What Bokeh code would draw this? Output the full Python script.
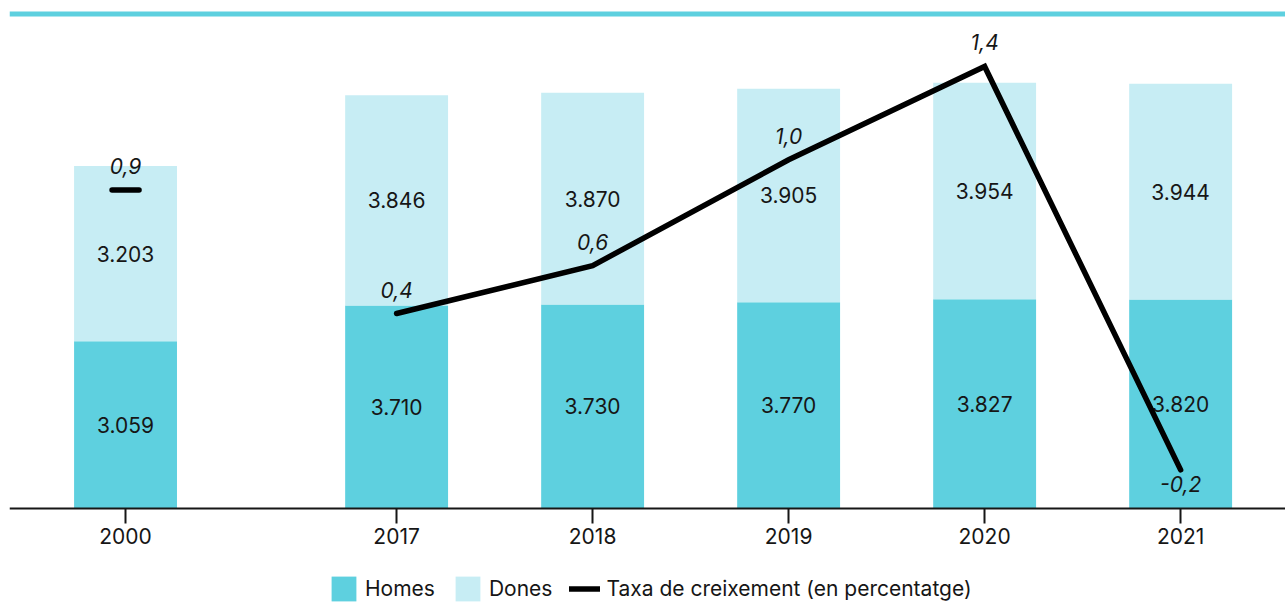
from bokeh.plotting import figure
from bokeh.models import (Range1d, FixedTicker, Span, Legend, LegendItem,
                          ColumnDataSource)
from bokeh.core.properties import value
from bokeh.embed import file_html
from bokeh.resources import INLINE

years = ["2000", "2017", "2018", "2019", "2020", "2021"]
homes = [3059, 3710, 3730, 3770, 3827, 3820]
dones = [3203, 3846, 3870, 3905, 3954, 3944]
taxa = [0.9, 0.41, 0.6, 1.02, 1.39, -0.21]

C_HOMES = "#5ed0df"
C_DONES = "#c7edf4"
FONT = "Inter"
TXT = "#161616"

# x positions: 2000 separated from the rest by a wider gap
pos = [0 if i == 0 else 1000 * i + 383 for i in range(len(years))]

def fmt_int(v):
    return f"{v:,}".replace(",", ".")

def fmt_pct(v):
    return f"{v:.1f}".replace(".", ",")

src = ColumnDataSource(dict(
    x=pos, homes=homes, dones=dones,
    homes_lbl=[fmt_int(v) for v in homes],
    dones_lbl=[fmt_int(v) for v in dones],
    homes_mid=[h / 2 for h in homes],
    dones_mid=[h + d / 2 for h, d in zip(homes, dones)],
))

p = figure(frame_width=1276, frame_height=595, output_backend="svg",
           toolbar_location=None,
           x_range=Range1d(-592, 5918), y_range=Range1d(-1755, 9122),
           min_border_left=9, min_border_right=0, min_border_top=9,
           min_border_bottom=0)
p.extra_y_ranges = {"taxa": Range1d(-0.7441, 1.616)}
p.outline_line_color = None
p.grid.visible = False
p.yaxis.visible = False
p.background_fill_color = "white"
p.border_fill_color = "white"

bars = p.vbar_stack(["homes", "dones"], x="x", width=525, source=src,
                    color=[C_HOMES, C_DONES], line_color=None)

p.text(x="x", y="homes_mid", text="homes_lbl", source=src,
       text_align="center", text_baseline="middle",
       text_font=value(FONT), text_font_size="21px", text_color=TXT)
p.text(x="x", y="dones_mid", text="dones_lbl", source=src,
       text_align="center", text_baseline="middle",
       text_font=value(FONT), text_font_size="21px", text_color=TXT)

# growth line (2017-2021) and isolated 2000 point
line_src = ColumnDataSource(dict(x=pos[1:], y=taxa[1:]))
ln = p.line("x", "y", source=line_src, y_range_name="taxa",
            line_color="black", line_width=5.5, line_cap="round", line_join="miter")
p.dash(x=[pos[0]], y=[taxa[0]], y_range_name="taxa", size=27,
       line_width=5.5, line_color="black", line_cap="round")

lbl_src = ColumnDataSource(dict(
    x=pos, y=taxa, t=[fmt_pct(v) for v in taxa],
    off=[-24 if v >= 0 else 14 for v in taxa],
))
p.text(x="x", y="y", text="t", source=lbl_src, y_range_name="taxa",
       y_offset="off", text_align="center", text_baseline="middle",
       text_font=value(FONT), text_font_size="21px", text_font_style="italic",
       text_color=TXT)

# top cyan rule
p.add_layout(Span(location=9040, dimension="width", line_color=C_HOMES,
                  line_width=5))

xa = p.xaxis[0]
xa.fixed_location = 0
xa.ticker = FixedTicker(ticks=pos)
xa.major_label_overrides = {x: y for x, y in zip(pos, years)}
xa.major_tick_out = 15
xa.major_tick_in = 0
xa.minor_tick_out = 0
xa.minor_tick_in = 0
xa.axis_line_color = TXT
xa.axis_line_width = 2
xa.major_tick_line_color = TXT
xa.major_tick_line_width = 2
xa.major_label_standoff = 5
xa.major_label_text_font = FONT
xa.major_label_text_font_size = "21px"
xa.major_label_text_color = TXT

legend = Legend(items=[
    LegendItem(label="Homes", renderers=[bars[0]]),
    LegendItem(label="Dones", renderers=[bars[1]]),
    LegendItem(label="Taxa de creixement (en percentatge)", renderers=[ln]),
], orientation="horizontal", location=(319, 0),
    glyph_width=31, glyph_height=31, label_standoff=6, spacing=17,
    label_text_font=FONT, label_text_font_size="21px", label_text_color=TXT,
    border_line_color=None, background_fill_alpha=0, padding=0, margin=0,
    label_height=31)
p.add_layout(legend)

open("out.html", "w").write(file_html(p, INLINE))
